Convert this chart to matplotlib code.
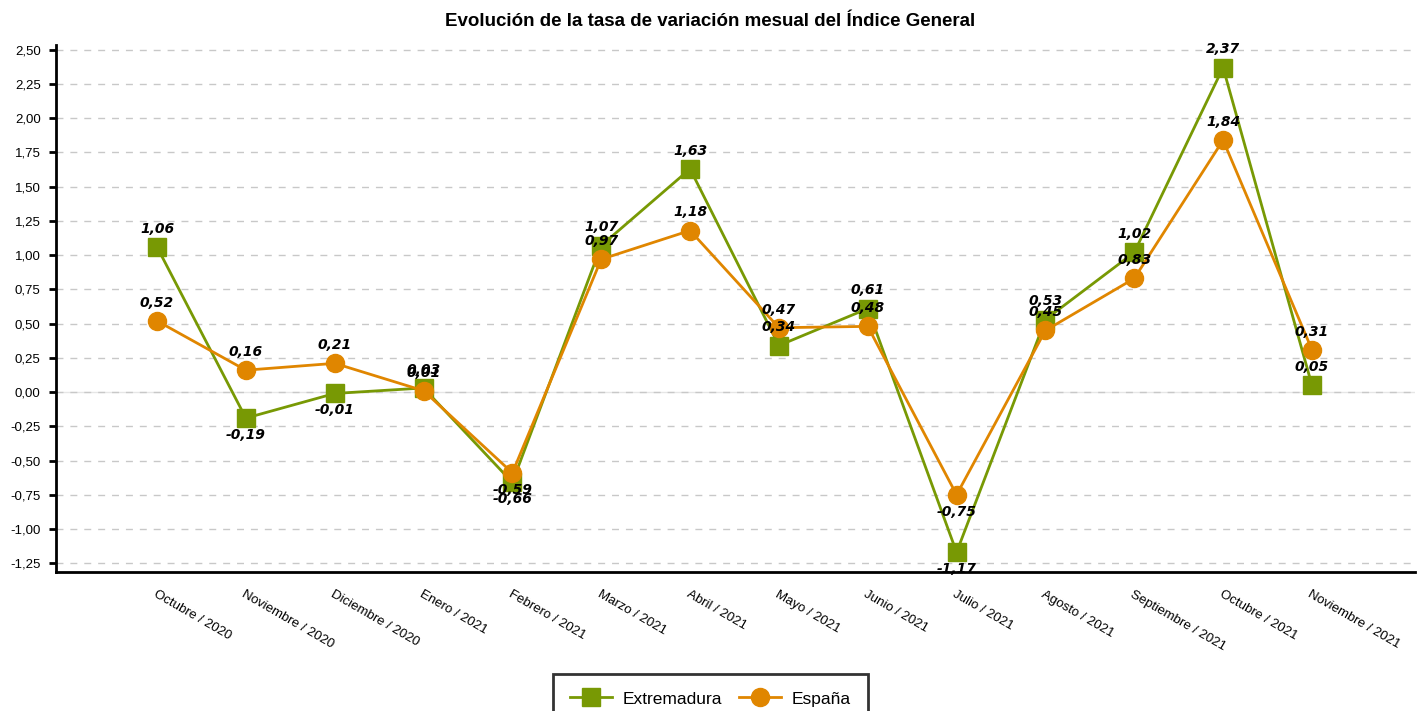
import matplotlib.pyplot as plt
from matplotlib.ticker import FuncFormatter, MultipleLocator

months = ["Octubre / 2020", "Noviembre / 2020", "Diciembre / 2020", "Enero / 2021",
          "Febrero / 2021", "Marzo / 2021", "Abril / 2021", "Mayo / 2021",
          "Junio / 2021", "Julio / 2021", "Agosto / 2021", "Septiembre / 2021",
          "Octubre / 2021", "Noviembre / 2021"]
extremadura = [1.06, -0.19, -0.01, 0.03, -0.66, 1.07, 1.63, 0.34, 0.61, -1.17, 0.53, 1.02, 2.37, 0.05]
espana = [0.52, 0.16, 0.21, 0.01, -0.59, 0.97, 1.18, 0.47, 0.48, -0.75, 0.45, 0.83, 1.84, 0.31]

green = "#789904"
orange = "#E08600"
plt.rcParams["font.family"] = ["Liberation Sans", "DejaVu Sans"]

fig = plt.figure(figsize=(14.21, 7.11), dpi=100)
ax = fig.add_axes([56 / 1421, 1 - 572 / 711, (1415 - 56) / 1421, (572 - 45) / 711])

x = list(range(len(months)))
ax.plot(x, extremadura, color=green, lw=2, marker="s", ms=13, label="Extremadura", zorder=3)
ax.plot(x, espana, color=orange, lw=2, marker="o", ms=13, label="España", zorder=4)


def fmt(v):
    return f"{v:.2f}".replace(".", ",")


# etiquetas de valor: encima si positivo, debajo si negativo
for series in (extremadura, espana):
    for i, v in enumerate(series):
        off = 8 if v >= 0 else -7
        ax.annotate(fmt(v), (i, v), xytext=(0, off), textcoords="offset points",
                    ha="center", va="bottom" if v >= 0 else "top",
                    fontsize=10, fontweight="bold", fontstyle="italic",
                    family="DejaVu Sans", zorder=5)

ax.set_xlim(-1.137, 14.16)
ax.set_ylim(-1.314, 2.535)
ax.yaxis.set_major_locator(MultipleLocator(0.25))
ax.yaxis.set_major_formatter(FuncFormatter(lambda v, p: fmt(v)))
ax.grid(axis="y", color="#c8c8c8", ls=(0, (5, 5)), lw=1)
ax.set_axisbelow(True)
ax.axhline(0, color="#e6e6e6", lw=1, zorder=0)

for s in ("top", "right"):
    ax.spines[s].set_visible(False)
ax.spines["left"].set_linewidth(2)
ax.spines["bottom"].set_linewidth(2)
ax.tick_params(axis="y", length=5, width=2, labelsize=9.5, pad=6)
ax.tick_params(axis="x", length=0)
ax.set_xticks(x)
ax.set_xticklabels(months, rotation=-30, ha="left", rotation_mode="anchor", fontsize=9.5)
for lab in ax.get_xticklabels():
    lab.set_x(-0.06)
    lab.set_y(-0.022)

fig.text(0.5, 1 - 21 / 711, "Evolución de la tasa de variación mesual del Índice General",
         ha="center", va="center", fontsize=13.5, fontweight="bold")

leg = fig.legend(loc="upper center", bbox_to_anchor=(0.5, 1 - 674 / 711), ncol=2, frameon=True,
                 fancybox=False, edgecolor="black", fontsize=12.5, handlelength=2.4,
                 borderpad=1.0, columnspacing=1.0, handletextpad=0.6, borderaxespad=0)
leg.get_frame().set_linewidth(2)

fig.savefig("out.png", dpi=100)
